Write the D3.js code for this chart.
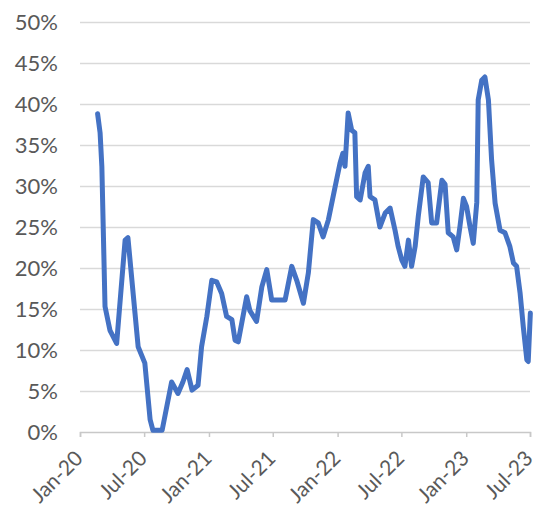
<!DOCTYPE html>
<html>
<head>
<meta charset="utf-8">
<script src="https://cdn.jsdelivr.net/npm/d3@7"></script>
<style>
  html, body { margin: 0; padding: 0; background: #fff; }
  svg { display: block; }
  .tick text { font-family: Lato, "Open Sans", sans-serif; fill: #595959; }
</style>
</head>
<body>
<svg id="chart" width="538" height="517"></svg>
<script>
// Observation dates and share values (fraction) for the series
const dates = [
  "2020-02-20","2020-02-27","2020-03-03","2020-03-12","2020-03-26","2020-04-14",
  "2020-05-08","2020-05-16","2020-06-05","2020-06-14","2020-07-03","2020-07-18",
  "2020-07-26","2020-08-21","2020-09-17","2020-10-05","2020-10-19","2020-10-31",
  "2020-11-14","2020-12-01","2020-12-11","2020-12-26","2021-01-09","2021-01-23",
  "2021-02-06","2021-02-20","2021-03-07","2021-03-16","2021-03-25","2021-04-04",
  "2021-04-18","2021-04-27","2021-05-16","2021-05-31","2021-06-14","2021-06-28",
  "2021-07-17","2021-08-05","2021-08-24","2021-09-07","2021-09-26","2021-10-10",
  "2021-10-24","2021-11-07","2021-11-21","2021-12-06","2021-12-25","2022-01-08",
  "2022-01-16","2022-01-22","2022-01-31","2022-02-10","2022-02-19","2022-02-24",
  "2022-03-06","2022-03-20","2022-03-29","2022-04-03","2022-04-17","2022-05-01",
  "2022-05-16","2022-05-30","2022-06-13","2022-06-22","2022-07-02","2022-07-11",
  "2022-07-21","2022-07-30","2022-08-09","2022-08-18","2022-09-01","2022-09-15",
  "2022-09-25","2022-10-09","2022-10-24","2022-11-02","2022-11-11","2022-11-25",
  "2022-12-05","2022-12-14","2022-12-24","2023-01-02","2023-01-12","2023-01-21",
  "2023-01-31","2023-02-04","2023-02-14","2023-02-23","2023-03-05","2023-03-14",
  "2023-03-24","2023-04-07","2023-04-21","2023-05-05","2023-05-15","2023-05-24",
  "2023-06-03","2023-06-12","2023-06-22","2023-06-26","2023-07-02"
];
const values = [
  0.388,0.365,0.324,0.153,0.124,0.108,
  0.234,0.237,0.145,0.104,0.084,0.015,
  0.002,0.002,0.061,0.047,0.061,0.076,
  0.051,0.057,0.104,0.141,0.185,0.183,
  0.169,0.141,0.137,0.112,0.110,0.133,
  0.165,0.148,0.135,0.177,0.198,0.161,
  0.161,0.161,0.202,0.185,0.157,0.194,
  0.259,0.255,0.238,0.259,0.299,0.328,
  0.340,0.324,0.389,0.368,0.365,0.287,
  0.283,0.316,0.324,0.287,0.283,0.250,
  0.267,0.273,0.246,0.226,0.210,0.202,
  0.234,0.202,0.226,0.263,0.311,0.304,
  0.255,0.255,0.307,0.302,0.243,0.238,
  0.222,0.250,0.285,0.275,0.250,0.230,
  0.280,0.405,0.429,0.433,0.405,0.332,
  0.279,0.246,0.243,0.226,0.206,0.202,
  0.169,0.128,0.088,0.086,0.145
];

// Axis ticks
const xTickDates = ["2020-01-01","2020-07-01","2021-01-01","2021-07-01",
                    "2022-01-01","2022-07-01","2023-01-01","2023-07-01"];
const xTickLabels = ["Jan-20","Jul-20","Jan-21","Jul-21","Jan-22","Jul-22","Jan-23","Jul-23"];
const yTicks = [0,0.05,0.10,0.15,0.20,0.25,0.30,0.35,0.40,0.45,0.50];

const parse = d3.timeParse("%Y-%m-%d");
const data = dates.map((d, i) => ({ date: parse(d), value: values[i] }));

const svg = d3.select("#chart");
const margin = { left: 80, right: 8, top: 22, bottom: 85 };
const W = 538, H = 517;

const x = d3.scaleTime()
  .domain([parse(xTickDates[0]), parse(xTickDates[xTickDates.length - 1])])
  .range([margin.left, W - margin.right]);
const y = d3.scaleLinear()
  .domain([0, 0.5])
  .range([H - margin.bottom, margin.top]);

// Horizontal gridlines
const grid = svg.append("g")
  .attr("transform", `translate(${margin.left},0)`)
  .call(d3.axisLeft(y).tickValues(yTicks.slice(1))
    .tickSize(-(W - margin.right - margin.left)).tickFormat(""));
grid.select(".domain").remove();
grid.selectAll(".tick line").attr("stroke", "#d9d9d9").attr("stroke-width", 1.5);

// Y axis labels
const yAxis = svg.append("g")
  .attr("transform", `translate(${margin.left - 22},0)`)
  .call(d3.axisLeft(y).tickValues(yTicks).tickSize(0).tickPadding(0)
    .tickFormat(d3.format(".0%")));
yAxis.select(".domain").remove();
yAxis.selectAll("text").style("font-size", "22px").attr("dy", "0.36em");

// X axis with rotated date labels
const xAxis = svg.append("g")
  .attr("transform", `translate(0,${y(0)})`)
  .call(d3.axisBottom(x).tickValues(xTickDates.map(parse)).tickSize(5)
    .tickFormat((d, i) => xTickLabels[i]));
xAxis.select(".domain").attr("stroke", "#c8c8c8").attr("stroke-width", 1.5);
xAxis.selectAll(".tick line").attr("stroke", "#c8c8c8").attr("stroke-width", 1.5);
xAxis.selectAll("text")
  .style("font-size", "21px")
  .attr("text-anchor", "end")
  .attr("dy", "0")
  .attr("transform", "translate(-2,22) rotate(-45)");

// Series line
svg.append("path")
  .datum(data)
  .attr("fill", "none")
  .attr("stroke", "#4472c4")
  .attr("stroke-width", 5)
  .attr("stroke-linejoin", "round")
  .attr("stroke-linecap", "round")
  .attr("d", d3.line().x(d => x(d.date)).y(d => y(d.value)));
</script>
</body>
</html>
